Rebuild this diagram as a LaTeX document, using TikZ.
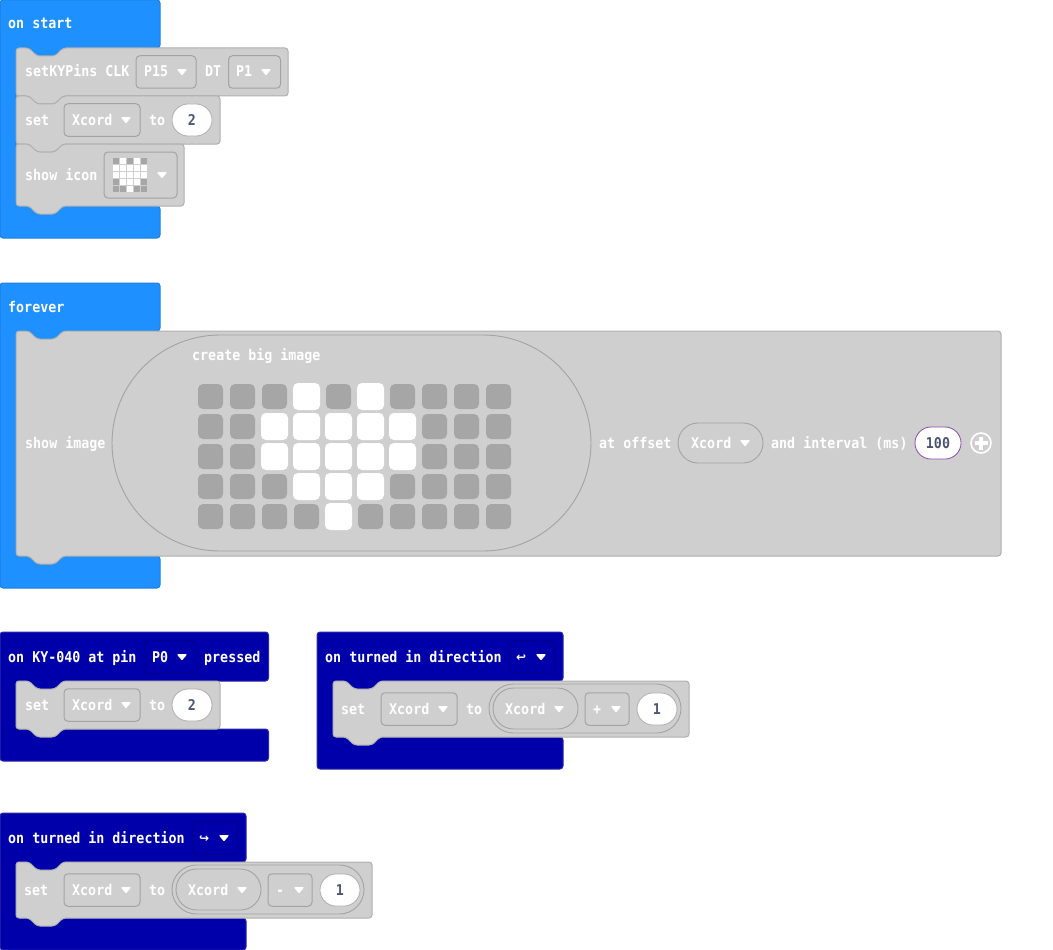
\documentclass[tikz,border=0pt]{standalone}
\usepackage{fontspec}
\newfontfamily\blockfont{DejaVu Sans Mono Bold}[FakeStretch=0.9]
\newfontfamily\symbfont{DejaVu Sans Bold}
\usetikzlibrary{shapes.misc}

\definecolor{lightblue}{HTML}{1E90FF}
\definecolor{lightedge}{HTML}{1C7FE0}
\definecolor{darkblue}{HTML}{0000AB}
\definecolor{darkedge}{HTML}{2A2AA8}
\definecolor{darkfield}{HTML}{000088}
\definecolor{blockgray}{HTML}{CFCFCF}
\definecolor{blockedge}{HTML}{AFAFAF}
\definecolor{fieldedge}{HTML}{A3A3A3}
\definecolor{ledoff}{HTML}{A6A6A6}
\definecolor{numtext}{HTML}{4B5573}
\definecolor{purpleedge}{HTML}{8E4BA8}

\tikzset{
	lbl/.style={anchor=base west,inner sep=0pt,text=white,font=\blockfont\fontsize{14.8}{16}\selectfont},
	stmt/.style={fill=blockgray,draw=blockedge,line width=1pt,rounded corners=3pt},
	dropbox/.style={draw=fieldedge,fill=blockgray,line width=1pt,rounded corners=4pt,inner sep=0pt,minimum height=32.5pt},
	darkbox/.style={draw=darkfield,line width=1pt,rounded corners=4pt,inner sep=0pt,minimum height=32.5pt},
	oval/.style={draw=fieldedge,rounded rectangle,inner sep=0pt,line width=0.9pt},
	numpill/.style={rounded rectangle,fill=white,draw=blockedge,line width=0.8pt,inner sep=0pt,minimum height=32pt,text=numtext,font=\blockfont\fontsize{14.8}{16}\selectfont},
}

% x0 y0 x1 y1, statement block with notch and tab
\newcommand{\stackblock}[4]{
	\draw[stmt] (#1,#2) -- ++(13,0) -- ++(8,8) -- ++(18,0) -- ++(8,-8) -- (#3,#2) -- (#3,#4)
		-- (#1+47,#4) -- ++(-8,8) -- ++(-18,0) -- ++(-8,-8) -- (#1,#4) -- cycle;
}
% colour edge x0 y0 x1 ytop ybottom y1, hat around the statements
\newcommand{\hatblock}[8]{
	\draw[fill=#1,draw=#2,line width=1pt,rounded corners=3pt] (#3,#4) -- (#5,#4) -- (#5,#6)
		-- (#3+63,#6) -- ++(-8,8) -- ++(-18,0) -- ++(-8,-8) -- (#3+16,#6) -- (#3+16,#7)
		-- (#5,#7) -- (#5,#8) -- (#3,#8) -- cycle;
}
\newcommand{\droparrow}[2]{
	\fill[white,draw=white,line width=1.2pt,line join=round] (#1-4,#2-2.2) -- (#1+4,#2-2.2) -- (#1,#2+2.5) -- cycle;
}
% the nested set block, arguments are a prefix and the operator
\newcommand{\setchange}[2]{
	\stackblock{333}{681}{689}{737}
	\node[lbl] (#1set) at (341,714) {set};
	\node[dropbox,minimum width=76pt] (#1var) at (419,709) {};
	\node[lbl] (#1varname) at (389,714) {Xcord};
	\droparrow{443}{709}
	\node[lbl] (#1to) at (466,714) {to};
	\node[oval,minimum width=192pt,minimum height=49pt] (#1outer) at (585,708.5) {};
	\node[oval,minimum width=85pt,minimum height=41pt] (#1inner) at (535.5,708.5) {};
	\node[lbl] (#1innername) at (505,714) {Xcord};
	\droparrow{559}{709}
	\node[dropbox,minimum width=44pt] (#1opbox) at (607,709) {};
	\node[lbl] (#1op) at (593,714) {#2};
	\droparrow{616}{709}
	\node[numpill,minimum width=40pt] (#1num) at (657,709) {1};
}

\begin{document}
\begin{tikzpicture}[x=1pt,y=-1pt]
	\useasboundingbox (0,0) rectangle (1053,950);

	% on start
	\hatblock{lightblue}{lightedge}{0}{0}{160}{48}{206}{238}
	\node[lbl] (onstart) at (8,29) {on start};
	\stackblock{16}{48}{288}{96}
	\node[lbl] (setky) at (25,77) {setKYPins CLK};
	\node[dropbox,minimum width=60pt] (clkbox) at (166,72) {};
	\node[lbl] (clkpin) at (144,77) {P15};
	\droparrow{182}{72}
	\node[lbl] (dtlabel) at (205,77) {DT};
	\node[dropbox,minimum width=52pt] (dtbox) at (254.5,72) {};
	\node[lbl] (dtpin) at (236,77) {P1};
	\droparrow{266}{72}
	\stackblock{16}{96}{220}{144}
	\node[lbl] (setone) at (25,125) {set};
	\node[dropbox,minimum width=76pt] (varone) at (102,120) {};
	\node[lbl] (varonename) at (72,125) {Xcord};
	\droparrow{126}{120}
	\node[lbl] (toone) at (149,125) {to};
	\node[numpill,minimum width=40pt] (numone) at (192,120) {2};
	\stackblock{16}{144}{184}{206}
	\node[lbl] (showicon) at (25,180) {show icon};
	\node[dropbox,minimum width=73pt,minimum height=46pt] (iconbox) at (140.5,175) {};
	\foreach \c in {0,...,4}
		\foreach \r in {0,...,4}
			\fill[ledoff] (\c*7+113,\r*7+158) rectangle ++(5.5,5.5);
	\foreach \c/\r in {1/0,3/0,0/1,1/1,2/1,3/1,4/1,0/2,1/2,2/2,3/2,4/2,1/3,2/3,3/3,2/4}
		\fill[white] (\c*7+112.75,\r*7+157.75) rectangle ++(6,6);
	\droparrow{162}{175}

	% forever
	\hatblock{lightblue}{lightedge}{0}{283}{160}{331}{556}{588}
	\node[lbl] (foreverlbl) at (8,312) {forever};
	\stackblock{16}{331}{1001}{556}
	\node[lbl] (showimage) at (25,448) {show image};
	\node[oval,minimum width=479pt,minimum height=216pt] (bigoval) at (351.5,443) {};
	\node[lbl] (bigimage) at (192,360) {create big image};
	\foreach \c in {0,...,9}
		\foreach \r in {0,...,4}
			\fill[ledoff,rounded corners=5pt] (\c*32+198,\r*30+384) rectangle ++(25,25);
	\foreach \c/\r in {3/0,5/0,2/1,3/1,4/1,5/1,6/1,2/2,3/2,4/2,5/2,6/2,3/3,4/3,5/3,4/4}
		\fill[white,rounded corners=5pt] (\c*32+197,\r*30+383) rectangle ++(27,27);
	\node[lbl] (atoffset) at (599,448) {at offset};
	\node[oval,minimum width=85pt,minimum height=40pt] (offsetoval) at (720.5,443) {};
	\node[lbl] (offsetname) at (691,448) {Xcord};
	\droparrow{745}{443}
	\node[lbl] (interval) at (771,448) {and interval (ms)};
	\node[numpill,draw=purpleedge,minimum width=46pt] (numint) at (938,443) {100};
	\node[circle,draw=white,line width=1.6pt,minimum size=20pt,inner sep=0pt] (addbtn) at (981,443) {};
	\draw[white,line width=3.6pt] (addbtn.center) ++(-6.5,0) -- ++(13,0);
	\draw[white,line width=3.6pt] (addbtn.center) ++(0,-6.5) -- ++(0,13);

	% on KY-040 pressed
	\hatblock{darkblue}{darkedge}{0}{632}{268.5}{681}{729}{761}
	\node[lbl] (onky) at (8,662) {on KY-040 at pin};
	\node[darkbox,minimum width=52pt] (pinbox) at (170,657) {};
	\node[lbl] (pinname) at (152,662) {P0};
	\droparrow{182}{657}
	\node[lbl] (pressed) at (204,662) {pressed};
	\stackblock{16}{681}{220}{729}
	\node[lbl] (settwo) at (25,710) {set};
	\node[dropbox,minimum width=76pt] (vartwo) at (102,705) {};
	\node[lbl] (vartwoname) at (72,710) {Xcord};
	\droparrow{126}{705}
	\node[lbl] (totwo) at (149,710) {to};
	\node[numpill,minimum width=40pt] (numtwo) at (192,705) {2};

	% on turned, one way
	\hatblock{darkblue}{darkedge}{317}{632}{563}{681}{737}{769}
	\node[lbl] (turnone) at (325,662) {on turned in direction};
	\node[darkbox,minimum width=45pt] (dirone) at (532,657) {};
	\node[lbl,font=\symbfont\fontsize{12}{12}\selectfont] (arrowone) at (516,661) {↩};
	\droparrow{541}{657}
	\setchange{a}{+}

	% on turned, other way
	\hatblock{darkblue}{darkedge}{0}{813}{246}{862}{918}{950}
	\node[lbl] (turntwo) at (8,843) {on turned in direction};
	\node[darkbox,minimum width=45pt] (dirtwo) at (215,838) {};
	\node[lbl,font=\symbfont\fontsize{12}{12}\selectfont] (arrowtwo) at (199,842) {↪};
	\droparrow{224}{838}
	\begin{scope}[shift={(-317,181)}]
		\setchange{b}{-}
	\end{scope}
\end{tikzpicture}
\end{document}
